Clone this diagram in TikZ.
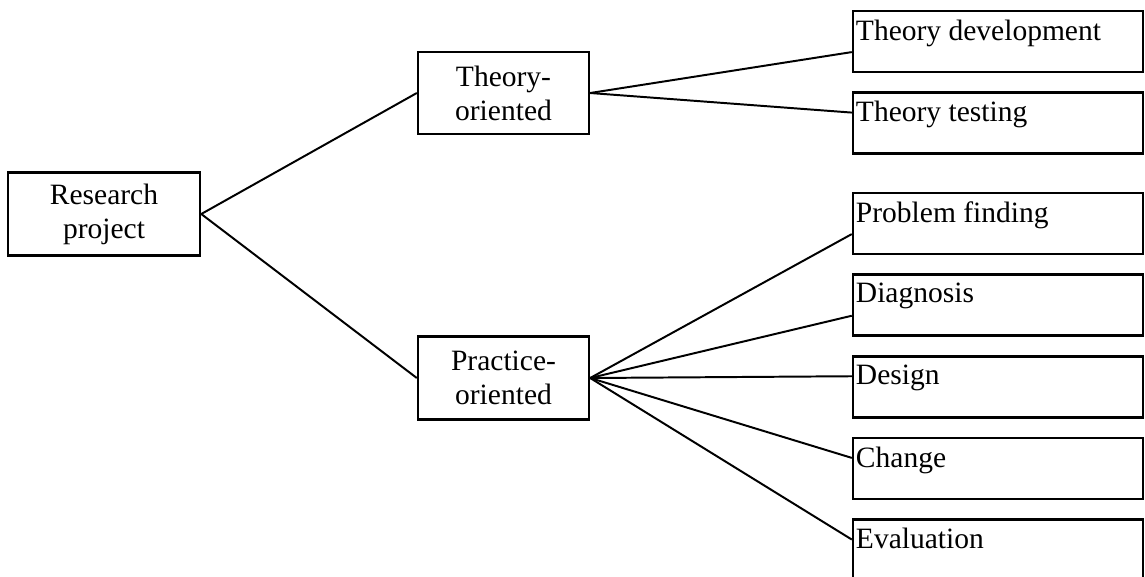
\documentclass[tikz,border=0pt]{standalone}
\usepackage{fontspec}
\setmainfont{Liberation Serif}
\usetikzlibrary{positioning}

\begin{document}
\begin{tikzpicture}[x=0.4066pt, y=-0.4066pt,
        box/.style={draw, line width=1pt, align=center, font=\fontsize{12}{13.8}\selectfont},
        leaf/.style={draw, line width=1pt, minimum width=117.9pt, minimum height=24.8pt},
        lbl/.style={anchor=north west, inner xsep=1.5pt, inner ysep=3.8pt, font=\fontsize{12}{13.8}\selectfont},
        link/.style={line width=0.8pt}]
        \useasboundingbox (0, 0) rectangle (1145, 576);

        \node[box, minimum width=78.1pt, minimum height=33.7pt] (project) at (104, 214) {Research\\project};
        \node[box, minimum width=69.5pt, minimum height=33.3pt] (theory) at (503.5, 93) {Theory-\\oriented};
        \node[box, minimum width=69.5pt, minimum height=33.7pt] (practice) at (503.5, 378) {Practice-\\oriented};

        \node[leaf, label={[lbl]north west:Theory development}] (tdev) at (998, 41.5) {};
        \node[leaf, label={[lbl]north west:Theory testing}, below=7.4pt of tdev] (ttest) {};

        \node[leaf, label={[lbl]north west:Problem finding}] (pfind) at (998, 223.5) {};
        \node[leaf, label={[lbl]north west:Diagnosis}, below=7.4pt of pfind] (diag) {};
        \node[leaf, label={[lbl]north west:Design}, below=7.4pt of diag] (design) {};
        \node[leaf, label={[lbl]north west:Change}, below=7.4pt of design] (change) {};
        \node[leaf, label={[lbl]north west:Evaluation}, below=7.4pt of change] (eval) {};

        \draw[link] (project.east) -- (theory.west);
        \draw[link] (project.east) -- (practice.west);

        \draw[link] (theory.east) -- ([yshift=-4.3pt]tdev.west);
        \draw[link] (theory.east) -- ([yshift=4.3pt]ttest.west);

        \draw[link] (practice.east) -- ([yshift=-4.3pt]pfind.west);
        \draw[link] (practice.east) -- ([yshift=-4.3pt]diag.west);
        \draw[link] (practice.east) -- ([yshift=4.3pt]design.west);
        \draw[link] (practice.east) -- ([yshift=4.3pt]change.west);
        \draw[link] (practice.east) -- ([yshift=4.3pt]eval.west);
    \end{tikzpicture}
\end{document}
